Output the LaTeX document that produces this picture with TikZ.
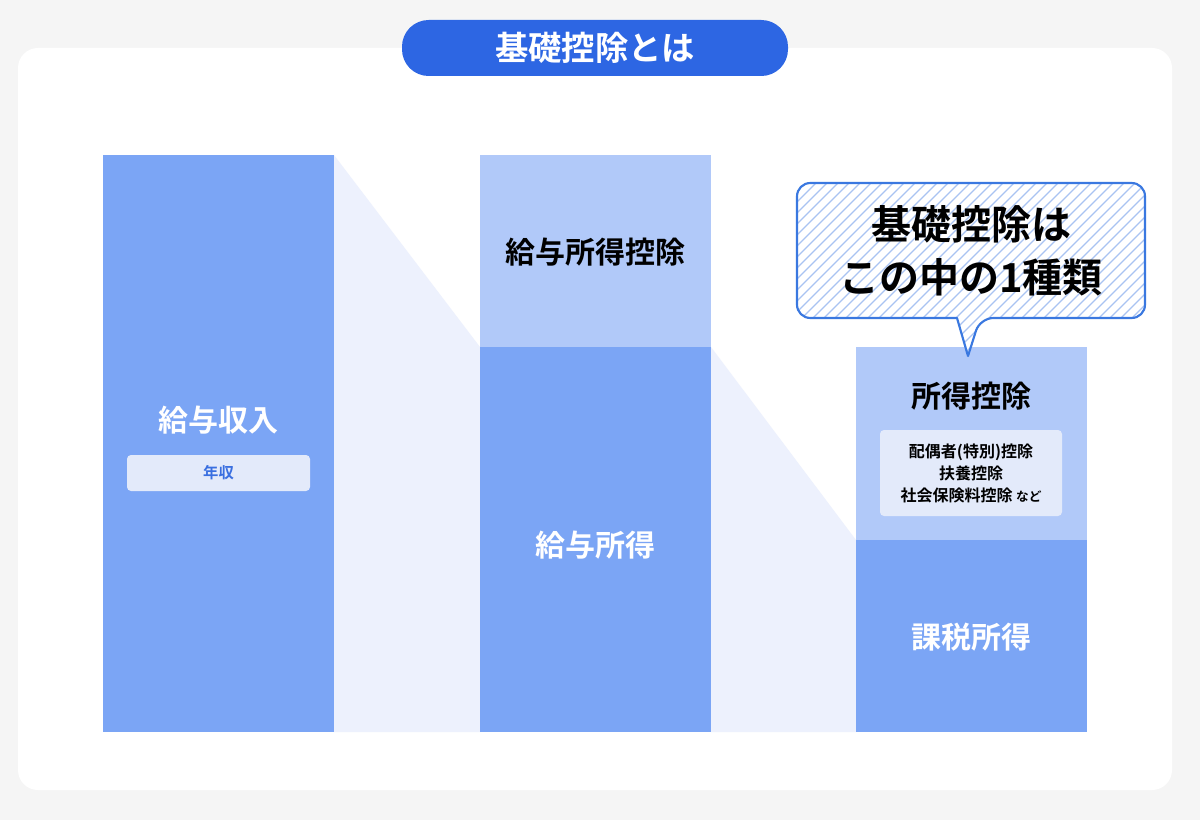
\documentclass[tikz,border=0pt]{standalone}
\usepackage{fontspec}
\setmainfont{Noto Sans CJK JP}[BoldFont={Noto Sans CJK JP Bold}]
\definecolor{bg}{HTML}{F5F5F5}
\definecolor{pill}{HTML}{2D66E3}
\definecolor{dark}{HTML}{7BA5F5}
\definecolor{lite}{HTML}{B1C9F9}
\definecolor{shadecol}{HTML}{EDF1FD}
\definecolor{tag}{HTML}{E3EAFA}
\definecolor{tagtxt}{HTML}{3A6FE0}
\definecolor{cborder}{HTML}{3A78E0}
\definecolor{hatch}{HTML}{A9C3F2}
\begin{document}
\begin{tikzpicture}[x=0.75pt,y=-0.75pt,
  lbl/.style={font=\bfseries\fontsize{22.5}{26}\selectfont},
  wlbl/.style={lbl,text=white}]
\fill[bg] (0,0) rectangle (1200,820);
\useasboundingbox (0,0) rectangle (1200,820);
\fill[white,rounded corners=15] (18,48) rectangle (1172,790);
\fill[pill,rounded corners=20] (402,20) rectangle (788,76);
\node[text=white,font=\bfseries\fontsize{25}{28}\selectfont] (title) at (595,48) {基礎控除とは};
% shading
\fill[shadecol] (334,155) -- (480,347) -- (480,732) -- (334,732) -- cycle;
\fill[shadecol] (711,347) -- (856,540) -- (856,732) -- (711,732) -- cycle;
% bar1
\fill[dark] (103,155) rectangle (334,732);
\node[wlbl] (b1) at (218.5,420) {給与収入};
\fill[tag,rounded corners=3] (127,455) rectangle (310,491);
\node[text=tagtxt,font=\bfseries\fontsize{11.5}{13}\selectfont] (nen) at (218.5,473) {年収};
% bar2
\fill[lite] (480,155) rectangle (711,347);
\fill[dark] (480,347) rectangle (711,732);
\node[lbl] (b2t) at (595.5,252) {給与所得控除};
\node[wlbl] (b2b) at (595.5,545) {給与所得};
% bar3
\fill[lite] (856,347) rectangle (1087,540);
\fill[dark] (856,540) rectangle (1087,732);
\node[lbl] (b3t) at (971.5,396) {所得控除};
\fill[tag,rounded corners=3] (880,430) rectangle (1062,516);
\node[align=center,font=\bfseries\fontsize{12}{16.5}\selectfont] (items) at (971,473)
  {配偶者(特別)控除\\扶養控除\\社会保険料控除 {\fontsize{9.5}{10}\selectfont など}};
\node[wlbl] (b3b) at (971.5,637) {課税所得};
% callout
\fill[white,rounded corners=10] (797,183) -- (1145,183) -- (1145,318) -- (980,318) [sharp corners]-- (968,356) -- (957,318) [rounded corners=10]-- (797,318) -- cycle;
\begin{scope}
\clip[rounded corners=10] (797,183) -- (1145,183) -- (1145,318) -- (980,318) [sharp corners]-- (968,356) -- (957,318) [rounded corners=10]-- (797,318) -- cycle;
\foreach \i in {0,...,50} {
  \draw[hatch,line width=0.9pt] (797+\i*11-180,360) -- (797+\i*11,180);
}
\end{scope}
\draw[cborder,line width=1.6pt,rounded corners=10,line join=round] (797,183) -- (1145,183) -- (1145,318) -- (980,318) [sharp corners]-- (968,356) -- (957,318) [rounded corners=10]-- (797,318) -- cycle;
\node[align=center,font=\bfseries\fontsize{30}{40}\selectfont] (call) at (971,251) {基礎控除は\\この中の1種類};
\end{tikzpicture}
\end{document}
